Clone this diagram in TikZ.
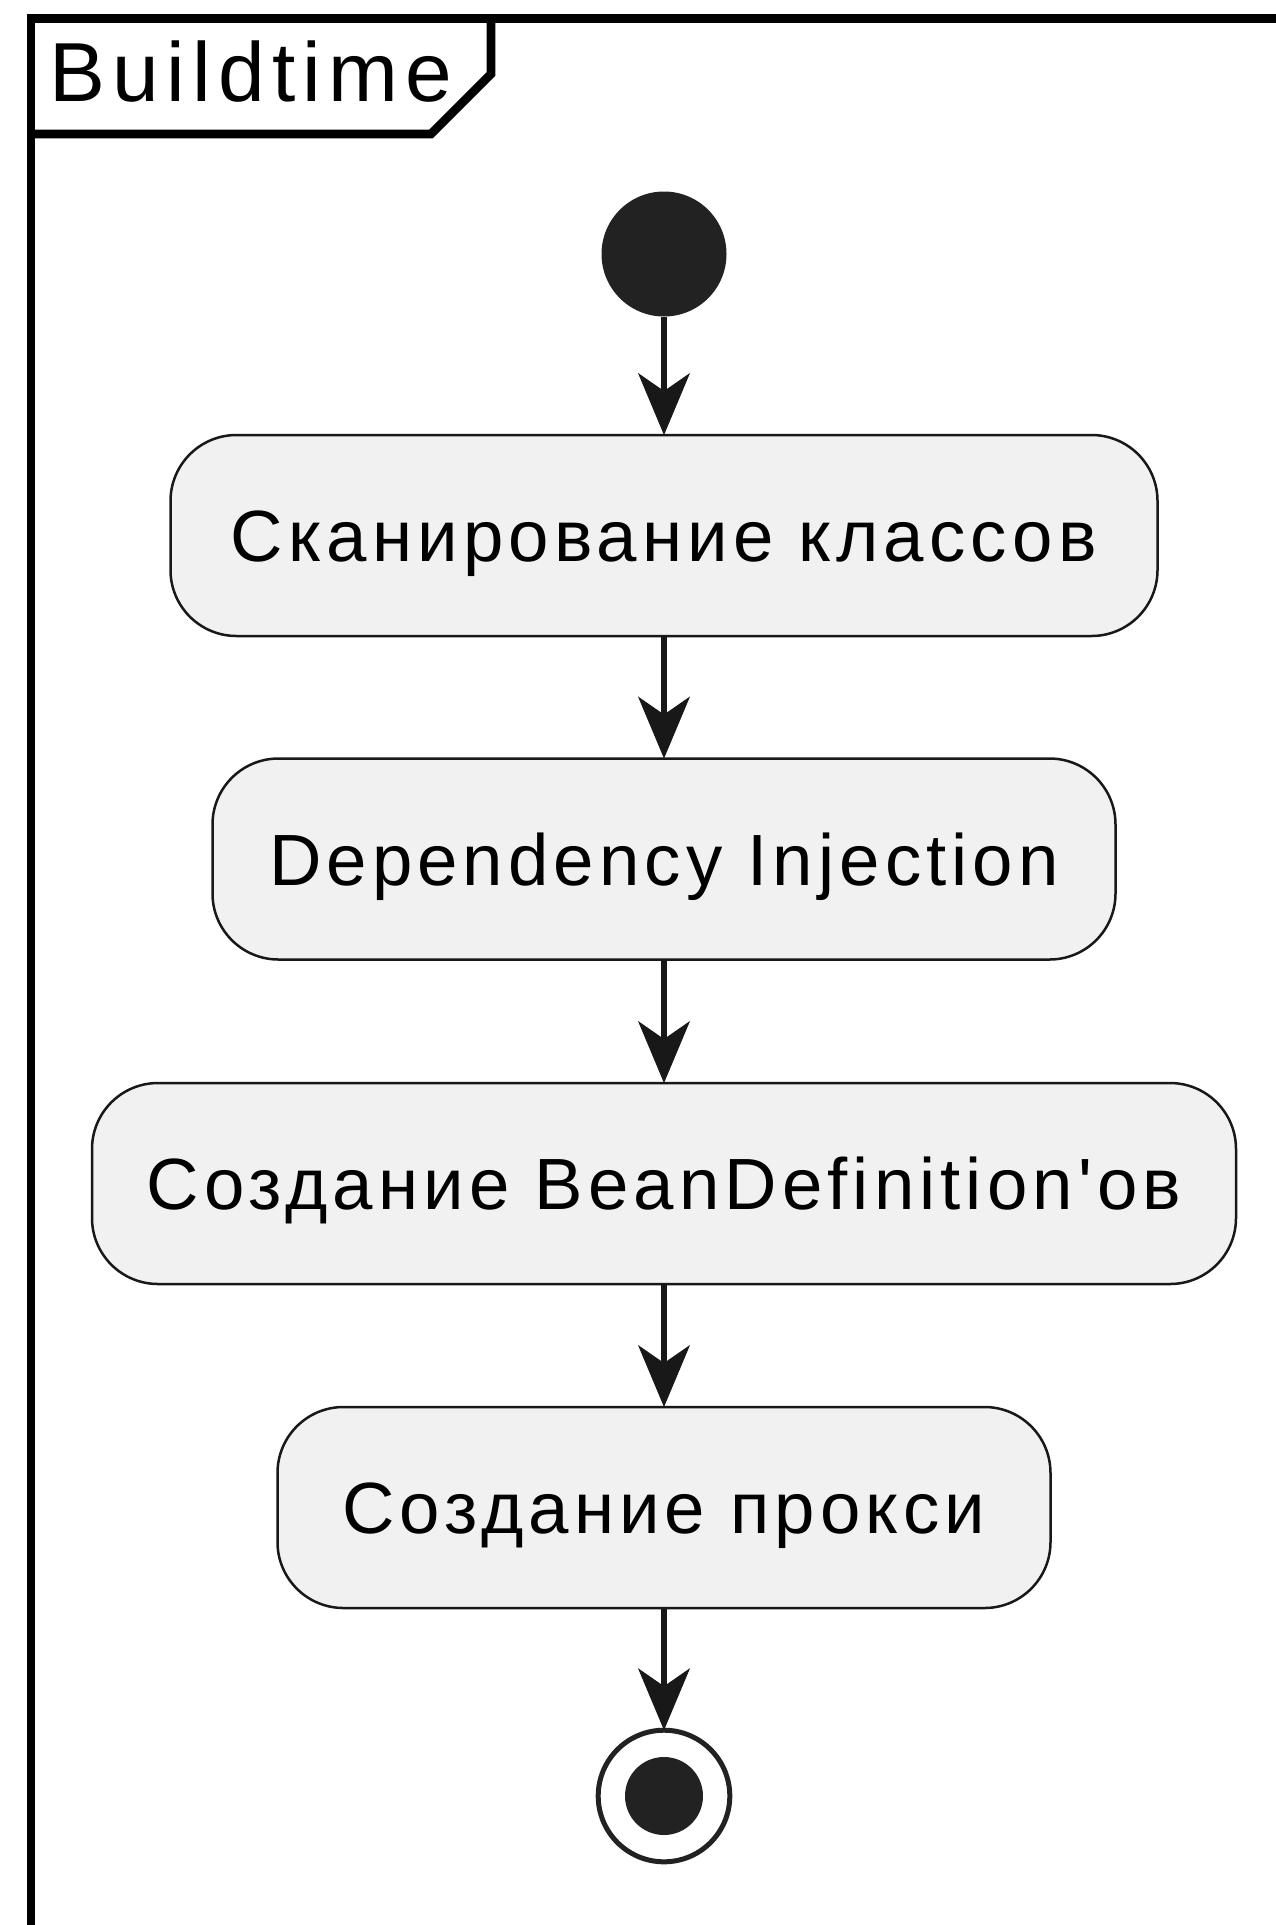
\documentclass[tikz,border=0pt]{standalone}
\usepackage{fontspec}
\setmainfont{Liberation Sans}
\newfontfamily\boxfont[LetterSpace=7]{Liberation Sans}
\newfontfamily\titlefont[LetterSpace=8.6]{Liberation Sans}
\usetikzlibrary{arrows.meta}
\definecolor{cbox}{HTML}{F1F1F1}
\definecolor{cline}{HTML}{181818}
\definecolor{cdot}{HTML}{222222}
\begin{document}
\begin{tikzpicture}[x=1pt,y=-1pt,
  actbox/.style={draw=cline, fill=cbox, line width=2.5pt, rounded corners=66pt,
    minimum height=201pt, inner sep=0pt, outer sep=0pt, text height=52pt, text depth=0pt,
    font=\boxfont\fontsize{72.6pt}{80pt}\selectfont},
  flow/.style={draw=cline, line width=5.5pt,
    -{Stealth[length=62pt,width=52pt,inset=18pt,line width=1pt]}},
  framestyle/.style={draw=black, line width=8.7pt}]
\path[use as bounding box] (0,0) rectangle (1276,1925);
\begin{scope}
  \clip (0,0) rectangle (1276,1925);
  \draw[framestyle] (31,1960) -- (31,18.5) -- (1300,18.5);
  \draw[framestyle] (31,134) -- (431,134) -- (491,74) -- (491,18.5);
\end{scope}
\node[anchor=base west, inner sep=0pt, font=\titlefont\fontsize{83.8pt}{90pt}\selectfont] (title) at (49.5,101.7) {Buildtime};

\node[circle, fill=cdot, minimum size=125pt, inner sep=0pt, outer sep=0pt] (start) at (664,254) {};
\node[actbox, minimum width=987pt] (b1) at (664,535.5) {Сканирование классов};
\node[actbox, minimum width=903pt] (b2) at (664,859) {Dependency Injection};
\node[actbox, minimum width=1144pt] (b3) at (664,1183.5) {Создание BeanDefinition'ов};
\node[actbox, minimum width=773pt] (b4) at (664,1507.5) {Создание прокси};
\node[circle, draw=cdot, line width=5pt, minimum size=131.6pt, inner sep=0pt, outer sep=0pt,
  path picture={\fill[cdot] (path picture bounding box.center) circle (39pt);}] (end) at (664,1796) {};

\draw[flow] (start) -- (b1);
\draw[flow] (b1) -- (b2);
\draw[flow] (b2) -- (b3);
\draw[flow] (b3) -- (b4);
\draw[flow] (b4) -- (end);
\end{tikzpicture}
\end{document}
